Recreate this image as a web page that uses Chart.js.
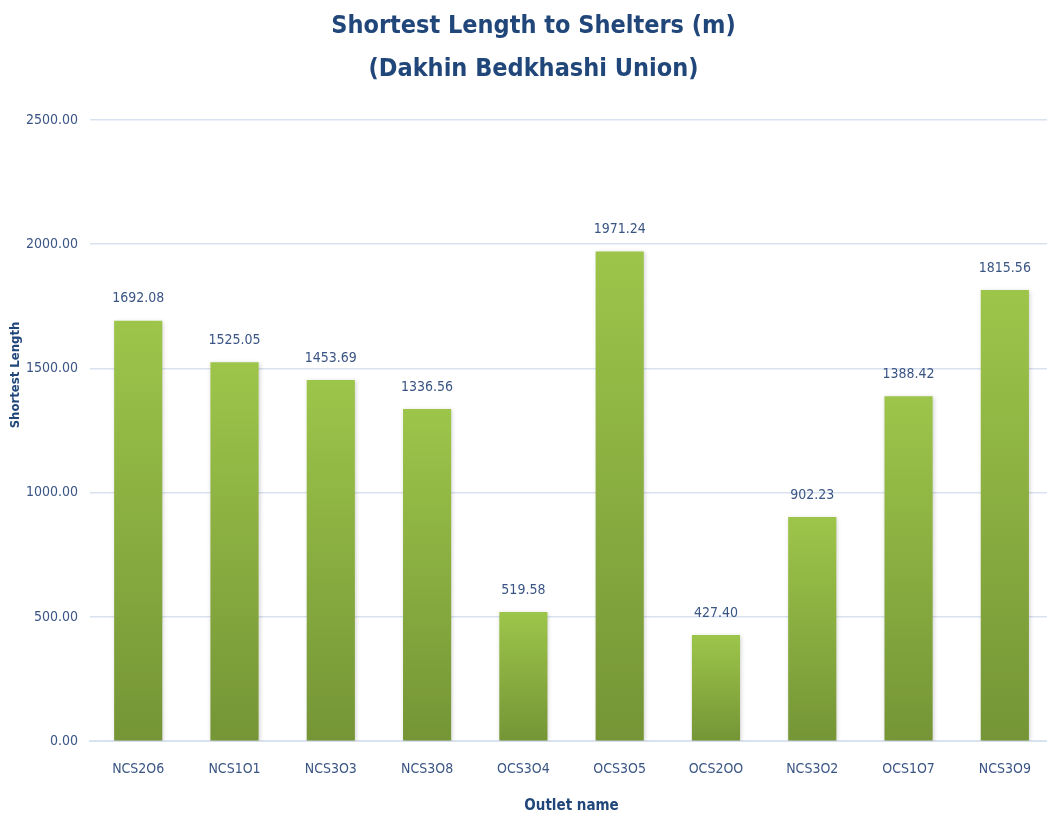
<!DOCTYPE html>
<html>
<head>
<meta charset="utf-8">
<script src="https://cdn.jsdelivr.net/npm/chart.js@4/dist/chart.umd.min.js"></script>
<style>
  html, body { margin: 0; padding: 0; background: #fff; overflow: hidden; }
  #wrap { width: 1054px; height: 819px; position: relative; }
</style>
</head>
<body>
<div id="wrap"><canvas id="shelterChart"></canvas></div>
<script>
// outlet names and shortest length (m)
const outlets = ['NCS2O6', 'NCS1O1', 'NCS3O3', 'NCS3O8', 'OCS3O4', 'OCS3O5', 'OCS2OO', 'NCS3O2', 'OCS1O7', 'NCS3O9'];
const shortestLength = [1692.08, 1525.05, 1453.69, 1336.56, 519.58, 1971.24, 427.40, 902.23, 1388.42, 1815.56];
const yTicks = [0, 500, 1000, 1500, 2000, 2500];

const FONT = '"Liberation Sans Narrow", "DejaVu Sans Condensed", "Open Sans", sans-serif';
const NAVY = '#21477A';
const TEXT = '#3A5584';

// gradient per bar: light green on top -> darker at base
function barGradient(context) {
  const chart = context.chart;
  const { ctx, chartArea, scales } = chart;
  if (!chartArea || context.type !== 'data') return '#8DB43F';
  const top = scales.y.getPixelForValue(context.parsed.y);
  const base = scales.y.getPixelForValue(0);
  const g = ctx.createLinearGradient(0, top, 0, base);
  g.addColorStop(0, '#9DC54A');
  g.addColorStop(1, '#759536');
  return g;
}

// value labels above bars
const valueLabels = {
  id: 'valueLabels',
  afterDatasetsDraw(chart) {
    const { ctx } = chart;
    const meta = chart.getDatasetMeta(0);
    ctx.save();
    ctx.font = '14px ' + FONT;
    ctx.fillStyle = TEXT;
    ctx.textAlign = 'center';
    ctx.textBaseline = 'bottom';
    meta.data.forEach((bar, i) => {
      ctx.fillText(shortestLength[i].toFixed(2), bar.x, bar.y - 15);
    });
    ctx.restore();
  }
};

// y title sits a bit above the middle in the original, so draw it by hand
const yTitle = {
  id: 'yTitle',
  afterDraw(chart) {
    const ctx = chart.ctx;
    ctx.save();
    ctx.translate(16, 375);
    ctx.rotate(-Math.PI / 2);
    ctx.font = 'bold 13px ' + FONT;
    ctx.fillStyle = NAVY;
    ctx.textAlign = 'center';
    ctx.textBaseline = 'middle';
    ctx.fillText('Shortest Length', 0, 0);
    ctx.restore();
  }
};

// soft shadow round the bars
const barShadow = {
  id: 'barShadow',
  beforeDatasetsDraw(chart) {
    const ctx = chart.ctx;
    ctx.save();
    ctx.shadowColor = 'rgba(0,0,0,0.18)';
    ctx.shadowBlur = 4;
    ctx.shadowOffsetX = 1;
    ctx.shadowOffsetY = 1;
  },
  afterDatasetsDraw(chart) {
    chart.ctx.restore();
  }
};

new Chart(document.getElementById('shelterChart').getContext('2d'), {
  type: 'bar',
  data: {
    labels: outlets,
    datasets: [{
      label: 'Shortest Length',
      data: shortestLength,
      backgroundColor: barGradient,
      borderWidth: 0,
      categoryPercentage: 0.5,
      barPercentage: 1.0
    }]
  },
  plugins: [barShadow, valueLabels, yTitle],
  options: {
    responsive: true,
    maintainAspectRatio: false,
    animation: false,
    layout: { padding: { left: 14, right: 1, top: 0, bottom: 4 } },
    plugins: {
      legend: { display: false },
      tooltip: { enabled: false },
      title: {
        display: true,
        text: ['Shortest Length to Shelters (m)', '(Dakhin Bedkhashi Union)'],
        color: NAVY,
        font: { family: FONT, size: 25, weight: 'bold', lineHeight: 1.72 },
        padding: { top: 5, bottom: 29 }
      }
    },
    scales: {
      x: {
        grid: { display: false },
        border: { color: '#D9E2F0', width: 2 },
        ticks: { color: TEXT, font: { family: FONT, size: 14 }, padding: 12 },
        title: {
          display: true,
          text: 'Outlet name',
          color: NAVY,
          font: { family: FONT, size: 15, weight: 'bold' },
          padding: { top: 7, bottom: 0 }
        }
      },
      y: {
        min: 0,
        max: 2500,
        afterBuildTicks: (axis) => { axis.ticks = yTicks.map(v => ({ value: v })); },
        grid: { color: '#D9E2F0', lineWidth: 1.5, drawTicks: false },
        border: { display: false },
        ticks: {
          color: TEXT,
          font: { family: FONT, size: 14 },
          padding: 12,
          callback: (v) => Number(v).toFixed(2)
        }
      }
    }
  }
});
</script>
</body>
</html>
